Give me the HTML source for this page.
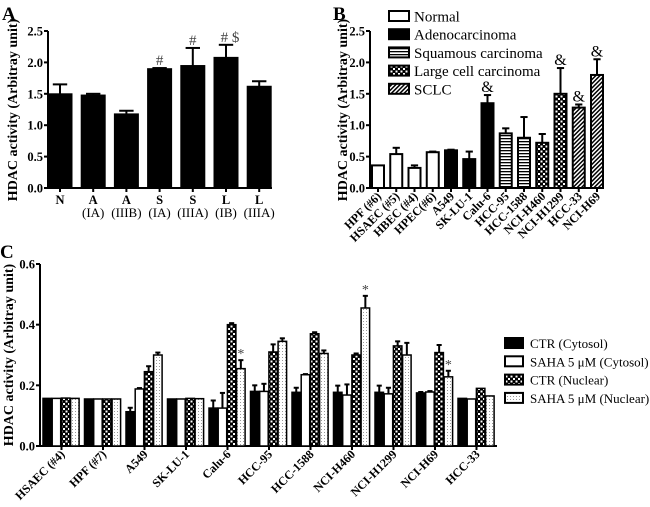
<!DOCTYPE html>
<html><head><meta charset="utf-8"><style>
body{margin:0;background:#fff}
svg{display:block;font-family:"Liberation Serif",serif}
</style></head><body>
<svg id="s" width="650" height="507" viewBox="0 0 650 507">
<defs>
<pattern id="hstripe" width="4" height="3" patternUnits="userSpaceOnUse"><rect width="4" height="3" fill="#fff"/><rect width="4" height="1.3" fill="#000"/></pattern>
<pattern id="check" width="5" height="5" patternUnits="userSpaceOnUse"><rect width="5" height="5" fill="#000"/><rect x="0.5" y="0.5" width="2" height="2" fill="#fff"/><rect x="3" y="3" width="2" height="2" fill="#fff"/></pattern>
<pattern id="diag" width="3" height="3" patternUnits="userSpaceOnUse" patternTransform="rotate(45)"><rect width="3" height="3" fill="#fff"/><rect width="1.5" height="3" fill="#000"/></pattern>
<pattern id="dots" width="3" height="3" patternUnits="userSpaceOnUse"><rect width="3" height="3" fill="#fff"/><rect width="1" height="1" fill="#999"/></pattern>
</defs>
<text x="2" y="20" font-size="19" font-weight="bold">A</text>
<text x="333" y="20" font-size="19" font-weight="bold">B</text>
<text x="0" y="258" font-size="19" font-weight="bold">C</text>
<g id="ga"></g>
<g id="gb"></g>
<g id="gc"></g>
</svg>
<script>
// Panel A data
const aCats=["N","A","A","S","S","L","L"];
const aSub=["","(IA)","(IIIB)","(IA)","(IIIA)","(IB)","(IIIA)"];
const aVals=[1.5,1.48,1.18,1.9,1.95,2.08,1.62];
const aErr=[0.15,0.02,0.05,0.01,0.28,0.2,0.08];
const aMarks=["","","","#","#","# $",""];
const abTicks=[0,0.5,1.0,1.5,2.0,2.5];
// Panel B data
const bCats=["HPF (#6)","HSAEC (#5)","HBEC (#4)","HPEC(#6)","A549","SK-LU-1","Calu-6","HCC-95","HCC-1588","NCI-H460","NCI-H1299","HCC-33","NCI-H69"];
const bVals=[0.36,0.54,0.32,0.57,0.6,0.46,1.35,0.87,0.8,0.72,1.5,1.28,1.8];
const bErr=[0,0.1,0.04,0.01,0.01,0.12,0.13,0.08,0.33,0.14,0.41,0.05,0.25];
const bType=[0,0,0,0,1,1,1,2,2,3,3,4,4];
const bMarks=["","","","","","","&","","","","&","&","&"];
const bLegend=["Normal","Adenocarcinoma","Squamous carcinoma","Large cell carcinoma","SCLC"];
// Panel C data
const cCats=["HSAEC (#4)","HPF (#7)","A549","SK-LU-1","Calu-6","HCC-95","HCC-1588","NCI-H460","NCI-H1299","NCI-H69","HCC-33"];
const cCtrCyt=[0.157,0.155,0.113,0.155,0.125,0.18,0.177,0.177,0.177,0.175,0.157];
const cSahaCyt=[0.157,0.155,0.188,0.155,0.125,0.18,0.235,0.168,0.172,0.178,0.155];
const cCtrNuc=[0.158,0.155,0.245,0.157,0.40,0.31,0.37,0.30,0.33,0.308,0.19];
const cSahaNuc=[0.157,0.155,0.30,0.156,0.255,0.345,0.305,0.455,0.30,0.228,0.165];
const cErrCtrCyt=[0,0,0.013,0,0.025,0.02,0.015,0.022,0.022,0.003,0];
const cErrSahaCyt=[0,0,0.003,0,0.05,0.025,0.002,0.035,0.02,0.003,0];
const cErrCtrNuc=[0,0,0.018,0,0.005,0.025,0.005,0.005,0.015,0.025,0];
const cErrSahaNuc=[0,0,0.008,0,0.028,0.01,0.01,0.04,0.04,0.02,0];
const cMarks=["","","","","*","","","*","","*",""];
const cTicks=[0,0.2,0.4,0.6];
const cLegend=["CTR (Cytosol)","SAHA 5 \u03bcM (Cytosol)","CTR (Nuclear)","SAHA 5 \u03bcM (Nuclear)"];

const NS="http://www.w3.org/2000/svg";
function mk(p,tag,at,txt){const e=document.createElementNS(NS,tag);for(const k in at)e.setAttribute(k,at[k]);if(txt!==undefined)e.textContent=txt;p.appendChild(e);return e;}
const fills=["#fff","#000","url(#hstripe)","url(#check)","url(#diag)"];
const cFills=["#000","#fff","url(#check)","url(#dots)"];

function axisY(g,x0,y0,y1,max,ticks,xEnd,fs,fmt){
  const ys=v=>y0-(v/max)*(y0-y1);
  let l=mk(g,'line',{x1:x0,y1:y0,x2:x0,y2:y1,stroke:'#000','stroke-width':2});
  
  l=mk(g,'line',{x1:x0,y1:y0,x2:xEnd,y2:y0,stroke:'#000','stroke-width':2});
  
  ticks.forEach(t=>{
    mk(g,'line',{x1:x0-4,y1:ys(t),x2:x0,y2:ys(t),stroke:'#000','stroke-width':2});
    const tx=mk(g,'text',{x:x0-5,y:ys(t)+4.5,'text-anchor':'end','font-size':fs,'font-weight':'bold'},t.toFixed(fmt));
    
  });
  return ys;
}
function bar(g,x,w,ys,v,e,fill,sw){
  const r=mk(g,'rect',{x:x,y:ys(v),width:w,height:ys(0)-ys(v),fill:fill,stroke:'#000','stroke-width':sw});
  
  if(e>0){const cx=x+w/2;mk(g,'line',{x1:cx,y1:ys(v),x2:cx,y2:ys(v+e),stroke:'#000','stroke-width':2});
    mk(g,'line',{x1:cx-w*0.3,y1:ys(v+e),x2:cx+w*0.3,y2:ys(v+e),stroke:'#000','stroke-width':2});}
}
// Panel A
(function(){
  const g=document.getElementById('ga');
  const ys=axisY(g,48,188,31,2.5,abTicks,272,12.5,1);
  const yl=mk(g,'text',{transform:'translate(17,110) rotate(-90)','text-anchor':'middle','font-size':14,'font-weight':'bold'},'HDAC activity (Arbitray unit)');
  
  aVals.forEach((v,i)=>{
    const cx=60+i*33.2;
    bar(g,cx-12,24,ys,v,aErr[i],'#000',1);
    mk(g,'line',{x1:cx,y1:188,x2:cx,y2:192,stroke:'#000','stroke-width':2});
    const t=mk(g,'text',{x:cx,y:204,'text-anchor':'middle','font-size':12.5,'font-weight':'bold'},aCats[i]);
    
    if(aSub[i]){const s=mk(g,'text',{x:cx,y:217,'text-anchor':'middle','font-size':13},aSub[i]);
      }
    if(aMarks[i]){const m=mk(g,'text',{x:cx+(aMarks[i].length>1?4:0),y:ys(v+aErr[i])-3,'text-anchor':'middle','font-size':15,fill:'#444'},aMarks[i]);
      }
  });
})();
// Panel B
(function(){
  const g=document.getElementById('gb');
  const ys=axisY(g,370,188,31,2.5,abTicks,603,12.5,1);
  const yl=mk(g,'text',{transform:'translate(347,110) rotate(-90)','text-anchor':'middle','font-size':14,'font-weight':'bold'},'HDAC activity (Arbitray unit)');
  
  bVals.forEach((v,i)=>{
    const cx=378+i*18.25;
    bar(g,cx-6,12,ys,v,bErr[i],fills[bType[i]],2);
    mk(g,'line',{x1:cx,y1:188,x2:cx,y2:192,stroke:'#000','stroke-width':2});
    const t=mk(g,'text',{transform:`translate(${cx+4},${197}) rotate(-45)`,'text-anchor':'end','font-size':12,'font-weight':'bold'},bCats[i]);
    
    if(bMarks[i]){const m=mk(g,'text',{x:cx,y:ys(v+bErr[i])-3,'text-anchor':'middle','font-size':16},bMarks[i]);
      }
  });
  bLegend.forEach((n,i)=>{
    const y=16+i*18.2;
    const r=mk(g,'rect',{x:389,y:y-5,width:20,height:10,fill:fills[i],stroke:'#000','stroke-width':2});
    
    const t=mk(g,'text',{x:414,y:y+5.5,'font-size':15},n);
    
  });
})();
// Panel C
(function(){
  const g=document.getElementById('gc');
  const ys=axisY(g,40,446,264,0.6,cTicks,497,12.5,1);
  const yl=mk(g,'text',{transform:'translate(13,355) rotate(-90)','text-anchor':'middle','font-size':14,'font-weight':'bold'},'HDAC activity (Arbitray unit)');
  
  const series=[cCtrCyt,cSahaCyt,cCtrNuc,cSahaNuc];
  const errs=[cErrCtrCyt,cErrSahaCyt,cErrCtrNuc,cErrSahaNuc];
  cCats.forEach((c,i)=>{
    const gx=43+i*41.5;
    series.forEach((s,k)=>bar(g,gx+k*9.2,8.5,ys,s[i],errs[k][i],cFills[k],1.5));
    const cx=gx+18.5;
    mk(g,'line',{x1:cx,y1:446,x2:cx,y2:450,stroke:'#000','stroke-width':2});
    const t=mk(g,'text',{transform:`translate(${cx+4},${455}) rotate(-45)`,'text-anchor':'end','font-size':12,'font-weight':'bold'},c);
    
    if(cMarks[i]){const v=cSahaNuc[i]+cErrSahaNuc[i];const m=mk(g,'text',{x:gx+3*9.2+4.25,y:ys(v)-2,'text-anchor':'middle','font-size':14,fill:'#444'},cMarks[i]);
      }
  });
  cLegend.forEach((n,i)=>{
    const y=343+i*18.3;
    const r=mk(g,'rect',{x:505,y:y-5,width:18,height:10,fill:cFills[i],stroke:'#000','stroke-width':2});
    
    const t=mk(g,'text',{x:530,y:y+5,'font-size':13},n);
    
  });
})();
</script>
</body></html>
